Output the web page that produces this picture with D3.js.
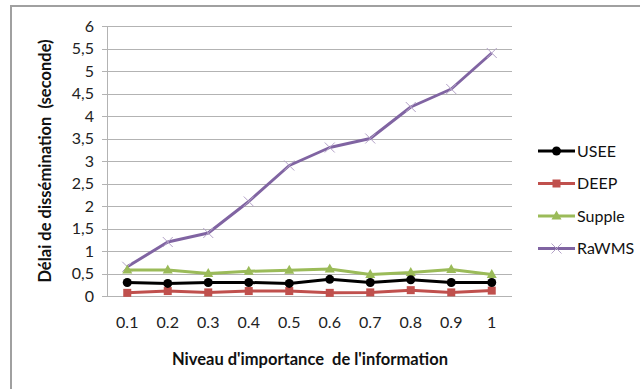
<!DOCTYPE html>
<html>
<head>
<meta charset="utf-8">
<script src="https://cdn.jsdelivr.net/npm/d3@7/dist/d3.min.js"></script>
<style>
  html, body { margin: 0; padding: 0; background: #fff; }
  svg { display: block; }
  text { font-family: "Lato", "Open Sans", "Liberation Sans", sans-serif; }
</style>
</head>
<body>
<svg id="chart" width="640" height="389"></svg>
<script>
// Niveaux d'importance (catégories de l'axe X)
const categories = ["0.1", "0.2", "0.3", "0.4", "0.5", "0.6", "0.7", "0.8", "0.9", "1"];

// Délai de dissémination (secondes) par protocole
const usee   = [0.30, 0.28, 0.30, 0.30, 0.28, 0.37, 0.30, 0.36, 0.30, 0.30];
const deep   = [0.07, 0.11, 0.08, 0.11, 0.11, 0.07, 0.08, 0.13, 0.08, 0.12];
const supple = [0.58, 0.58, 0.50, 0.55, 0.57, 0.60, 0.48, 0.52, 0.59, 0.48];
const rawms  = [0.65, 1.20, 1.40, 2.10, 2.90, 3.30, 3.50, 4.20, 4.60, 5.40];

const yTicks = [0, 0.5, 1, 1.5, 2, 2.5, 3, 3.5, 4, 4.5, 5, 5.5, 6];

const seriesNames = ["USEE", "DEEP", "Supple", "RaWMS"];
const seriesValues = [usee, deep, supple, rawms];
const seriesColors = ["#000000", "#C0504D", "#9BBB59", "#8064A2"];
const seriesMarkers = ["circle", "square", "triangle", "cross"];

const svg = d3.select("#chart");

// Cadre extérieur (bords gauche et haut)
svg.append("path")
  .attr("d", "M11,389 V6 H640")
  .attr("fill", "none")
  .attr("stroke", "#a0a0a0")
  .attr("stroke-width", 2);

const plot = { left: 107, right: 512, top: 26, bottom: 296 };

const x = d3.scaleBand().domain(categories).range([plot.left, plot.right]);
const y = d3.scaleLinear().domain([0, 6]).range([plot.bottom, plot.top]);

// Quadrillage horizontal
svg.append("g")
  .selectAll("line")
  .data(yTicks)
  .join("line")
  .attr("x1", plot.left - 5)
  .attr("x2", plot.right)
  .attr("y1", d => Math.round(y(d)) + 0.5)
  .attr("y2", d => Math.round(y(d)) + 0.5)
  .attr("stroke", "#b3b3b3")
  .attr("stroke-width", 1);

// Axe vertical
svg.append("line")
  .attr("x1", plot.left + 0.5).attr("x2", plot.left + 0.5)
  .attr("y1", plot.top).attr("y2", plot.bottom)
  .attr("stroke", "#b3b3b3");

// Étiquettes de l'axe Y
const yAxis = d3.axisLeft(y).tickValues(yTicks)
  .tickFormat(d => String(d).replace(".", ","))
  .tickSize(0).tickPadding(13);
const gy = svg.append("g").attr("transform", `translate(${plot.left},0)`).call(yAxis);
gy.select(".domain").remove();
gy.selectAll("text")
  .attr("font-size", 16)
  .attr("fill", "#222")
  .style("font-family", "Lato, 'Open Sans', sans-serif");

// Étiquettes de l'axe X
const xAxis = d3.axisBottom(x).tickSize(0).tickPadding(21);
const gx = svg.append("g").attr("transform", `translate(0,${plot.bottom})`).call(xAxis);
gx.select(".domain").remove();
gx.selectAll("text")
  .attr("font-size", 16)
  .attr("fill", "#222")
  .style("font-family", "Lato, 'Open Sans', sans-serif");

// Titres des axes
svg.append("text")
  .attr("x", 310).attr("y", 365)
  .attr("text-anchor", "middle")
  .attr("font-size", 16.5).attr("font-weight", "bold")
  .attr("fill", "#111")
  .style("white-space", "pre")
  .text("Niveau d'importance  de l'information");

svg.append("text")
  .attr("transform", "translate(51,161) rotate(-90)")
  .attr("text-anchor", "middle")
  .attr("font-size", 16.5).attr("font-weight", "bold")
  .attr("fill", "#111")
  .style("white-space", "pre")
  .text("Délai de dissémination  (seconde)");

// Dessin d'un marqueur selon son type
function drawMarker(g, type, cx, cy, color) {
  if (type === "circle") {
    g.append("circle").attr("cx", cx).attr("cy", cy).attr("r", 4.5).attr("fill", color);
  } else if (type === "square") {
    g.append("rect").attr("x", cx - 4).attr("y", cy - 4).attr("width", 8).attr("height", 8).attr("fill", color);
  } else if (type === "triangle") {
    g.append("path").attr("d", `M${cx},${cy - 5.5} L${cx + 5},${cy + 3.5} L${cx - 5},${cy + 3.5} Z`).attr("fill", color);
  } else if (type === "cross") {
    g.append("path").attr("d", `M${cx - 5},${cy - 5} L${cx + 5},${cy + 5} M${cx + 5},${cy - 5} L${cx - 5},${cy + 5}`)
      .attr("stroke", "#b3a2c7").attr("stroke-width", 1).attr("fill", "none");
  }
}

const line = d3.line()
  .x((d, i) => x(categories[i]) + x.bandwidth() / 2)
  .y(d => y(d));

// Séries dans l'ordre d'empilement
const drawOrder = [3, 2, 1, 0];
drawOrder.forEach(k => {
  const g = svg.append("g");
  g.append("path")
    .datum(seriesValues[k])
    .attr("d", line)
    .attr("fill", "none")
    .attr("stroke", seriesColors[k])
    .attr("stroke-width", 3)
    .attr("stroke-linejoin", "round");
  seriesValues[k].forEach((v, i) => {
    drawMarker(g, seriesMarkers[k], x(categories[i]) + x.bandwidth() / 2, y(v), seriesColors[k]);
  });
});

// Légende
const legend = svg.append("g");
seriesNames.forEach((name, k) => {
  const ly = 151 + k * 32.5;
  const g = legend.append("g");
  g.append("line")
    .attr("x1", 538).attr("x2", 575)
    .attr("y1", ly).attr("y2", ly)
    .attr("stroke", seriesColors[k]).attr("stroke-width", 3);
  drawMarker(g, seriesMarkers[k], 556.5, ly, seriesColors[k]);
  g.append("text")
    .attr("x", 577).attr("y", ly + 5.5)
    .attr("font-size", 16)
    .attr("fill", "#111")
    .text(name);
});
</script>
</body>
</html>
